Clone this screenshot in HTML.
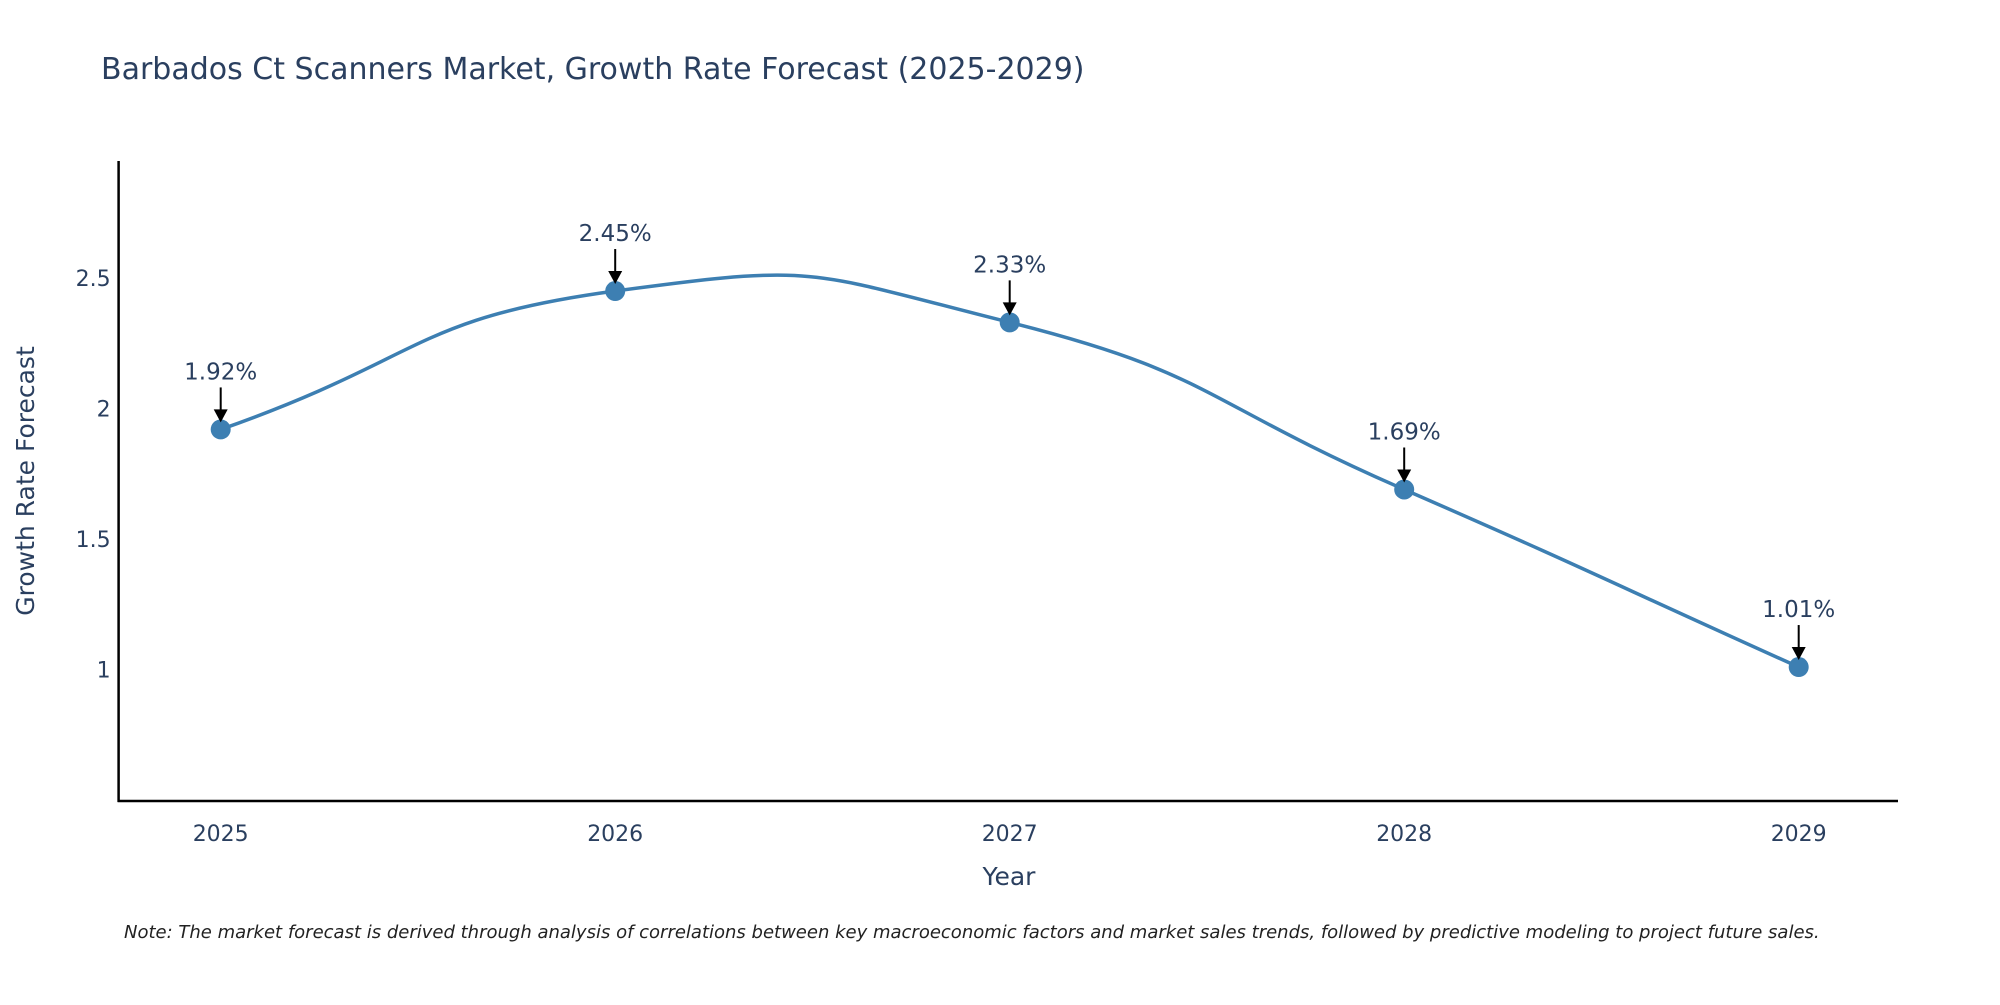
<!DOCTYPE html>
<html><head><meta charset="utf-8"><style>
body{margin:0;background:#fff;}
svg text{font-family:"DejaVu Sans","Liberation Sans",sans-serif;}
</style></head><body>
<svg id="chart" width="2000" height="1000" xmlns="http://www.w3.org/2000/svg">
<text x="101" y="79" font-size="30" fill="#2a3f5f">Barbados Ct Scanners Market, Growth Rate Forecast (2025-2029)</text>
<g id="plot"></g>
<text x="1009" y="885" font-size="25" fill="#2a3f5f" text-anchor="middle">Year</text>
<text transform="translate(34,481) rotate(-90)" font-size="25" fill="#2a3f5f" text-anchor="middle">Growth Rate Forecast</text>
<text x="124" y="938" font-size="18" font-style="italic" fill="#222">Note: The market forecast is derived through analysis of correlations between key macroeconomic factors and market sales trends, followed by predictive modeling to project future sales.</text>
</svg>
<script>
const years=["2025","2026","2027","2028","2029"];
const values=[1.92,2.45,2.33,1.69,1.01];
const labels=["1.92%","2.45%","2.33%","1.69%","1.01%"];
const yTicks=[1,1.5,2,2.5];
const yTickLabels=["1","1.5","2","2.5"];
const NS="http://www.w3.org/2000/svg";
const L=118.6,R=1898,T=161,B=801;
const x0=220.7,dx=394.5;
const xs=i=>x0+i*dx;
const ymin=0.497,ymax=2.948;
const ys=v=>B-(v-ymin)/(ymax-ymin)*(B-T);
const g=document.getElementById('plot');
function mk(t,a){const e=document.createElementNS(NS,t);for(const k in a)e.setAttribute(k,a[k]);g.appendChild(e);return e;}
let e=mk('line',{x1:L,y1:T,x2:L,y2:B+1,stroke:'#000','stroke-width':2.5});

e=mk('line',{x1:L-1,y1:B,x2:R,y2:B,stroke:'#000','stroke-width':2.5});

yTicks.forEach((v,i)=>{const t=mk('text',{x:L-8,y:ys(v)+8,'font-size':22,fill:'#2a3f5f','text-anchor':'end'});t.textContent=yTickLabels[i];
});
years.forEach((y,i)=>{const t=mk('text',{x:xs(i),y:B+40,'font-size':22,fill:'#2a3f5f','text-anchor':'middle'});t.textContent=y;
});
const P=values.map((v,i)=>[xs(i),ys(v)]);
let d=`M${P[0][0]},${P[0][1]}`;const k=0.26;
for(let i=0;i<P.length-1;i++){const p0=P[Math.max(0,i-1)],p1=P[i],p2=P[i+1],p3=P[Math.min(P.length-1,i+2)];
const f1=(i==0)?2:1, f2=(i==P.length-2)?2:1;
const c1=[p1[0]+(p2[0]-p0[0])*k*f1,p1[1]+(p2[1]-p0[1])*k*f1];
const c2=[p2[0]-(p3[0]-p1[0])*k*f2,p2[1]-(p3[1]-p1[1])*k*f2];
d+=` C${c1[0]},${c1[1]} ${c2[0]},${c2[1]} ${p2[0]},${p2[1]}`;}
e=mk('path',{d:d,fill:'none',stroke:'#3d7fb2','stroke-width':3.5});

P.forEach((p,i)=>{const c=mk('circle',{cx:p[0],cy:p[1],r:10,fill:'#3d7fb2'});

const a=mk('line',{x1:p[0],y1:p[1]-42,x2:p[0],y2:p[1]-16,stroke:'#000','stroke-width':2});

const h=mk('polygon',{points:`${p[0]-7},${p[1]-20} ${p[0]+7},${p[1]-20} ${p[0]},${p[1]-7}`,fill:'#000'});

const t=mk('text',{x:p[0],y:p[1]-50,'font-size':23,fill:'#2a3f5f','text-anchor':'middle'});t.textContent=labels[i];
});
</script>
</body></html>
